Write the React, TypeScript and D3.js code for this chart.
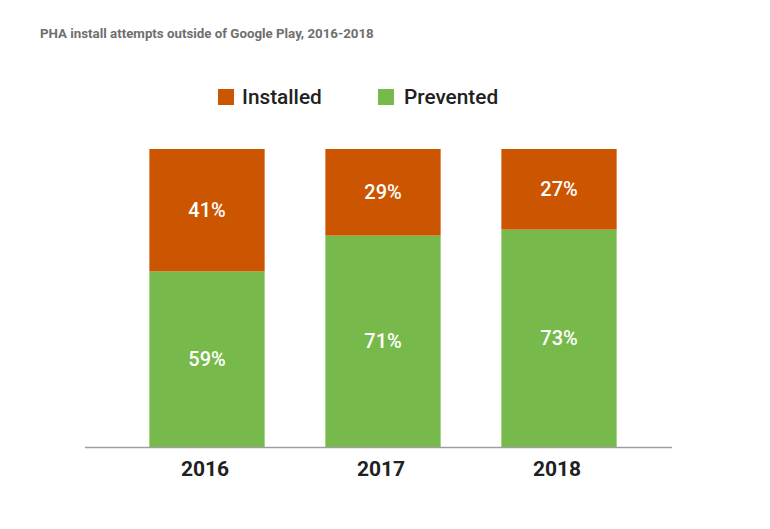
import React from 'react';
import * as d3 from 'd3';

// Data
const years = ['2016', '2017', '2018'];
const prevented = [59, 71, 73];
const installed = [41, 29, 27];
const seriesNames = ['Installed', 'Prevented'];
const seriesColors = ['#cb5500', '#77b94a'];

const W = 770;
const H = 529;
const baseline = 447.5;
const top = 149;

export default function App() {
  const x = d3.scaleBand<string>()
    .domain(years)
    .range([119, 647])
    .paddingInner(0.345)
    .paddingOuter(0.1725);

  const y = d3.scaleLinear().domain([0, 100]).range([baseline, top]);

  const rows = years.map((year, i) => ({ year, prevented: prevented[i], installed: installed[i] }));
  const stacked = d3.stack<any>().keys(['prevented', 'installed'])(rows);

  const font = 'Roboto, "Noto Sans", sans-serif';

  return (
    <svg width={W} height={H} style={{ position: 'absolute', left: 0, top: 0, background: '#fff' }}>
      <text x={40} y={37.5} fontFamily={font} fontWeight={700} fontSize={13.3} fill="#6f6f6f">
        PHA install attempts outside of Google Play, 2016-2018
      </text>

      {/* legend */}
      {seriesNames.map((name, i) => {
        const lx = i === 0 ? 218 : 378;
        return (
          <g key={name}>
            <rect x={lx} y={89} width={16} height={16} fill={seriesColors[i]} />
            <text x={lx + (i === 0 ? 24 : 26)} y={104} fontFamily={font} fontWeight={500} fontSize={20.8} fill="#212121">
              {name}
            </text>
          </g>
        );
      })}

      {/* bars */}
      {stacked.map((layer) => {
        const color = layer.key === 'installed' ? seriesColors[0] : seriesColors[1];
        return layer.map((d, i) => {
          const x0 = x(years[i])!;
          const y0 = y(d[1]);
          const y1 = y(d[0]);
          return (
            <g key={layer.key + i}>
              <rect x={x0} y={y0} width={x.bandwidth()} height={y1 - y0} fill={color} />
              <text
                x={x0 + x.bandwidth() / 2}
                y={(y0 + y1) / 2 + 6.5}
                textAnchor="middle"
                fontFamily={font}
                fontWeight={500}
                fontSize={20}
                fill="#fff"
              >
                {`${d[1] - d[0]}%`}
              </text>
            </g>
          );
        });
      })}

      {/* axis */}
      <line x1={85} x2={672} y1={baseline} y2={baseline} stroke="#9e9e9e" strokeWidth={1.5} />
      {years.map((yr) => (
        <text
          key={yr}
          x={x(yr)! + x.bandwidth() / 2 - 2}
          y={476}
          textAnchor="middle"
          fontFamily={font}
          fontWeight={700}
          fontSize={21}
          fill="#212121"
        >
          {yr}
        </text>
      ))}
    </svg>
  );
}
